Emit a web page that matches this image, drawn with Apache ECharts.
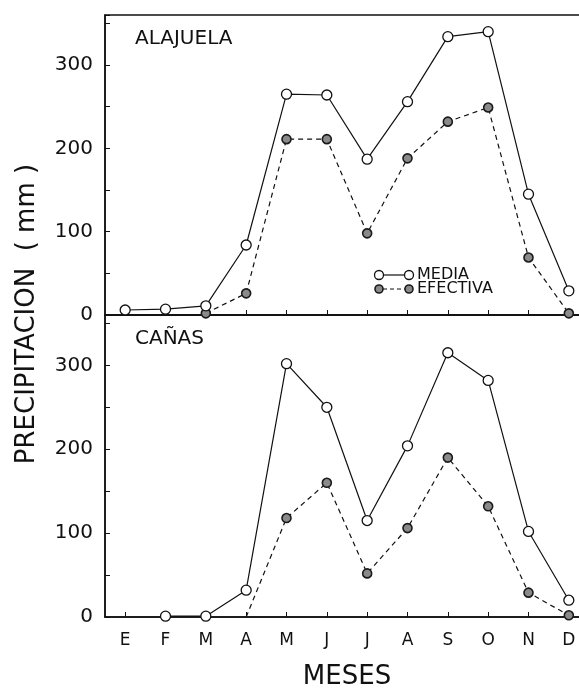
<!DOCTYPE html>
<html>
<head>
<meta charset="utf-8">
<script src="https://cdn.jsdelivr.net/npm/echarts@6/dist/echarts.min.js"></script>
<style>
  html, body { margin: 0; padding: 0; background: #fff; }
  #chart { width: 579px; height: 692px; }
</style>
</head>
<body>
<div id="chart"></div>
<script>
// meses del año
const months = ['E', 'F', 'M', 'A', 'M', 'J', 'J', 'A', 'S', 'O', 'N', 'D']
const yTicks = [0, 100, 200, 300]

// precipitacion (mm), Alajuela
const alajuelaMedia = [6, 7, 11, 84, 265, 264, 187, 256, 334, 340, 145, 29]
const alajuelaEfectiva = [null, null, 2, 26, 211, 211, 98, 188, 232, 249, 69, 2]

// precipitacion (mm), Cañas
const canasMedia = [null, 1, 1, 32, 302, 250, 115, 204, 315, 282, 102, 20]
const canasEfectiva = [null, null, null, 0, 118, 160, 52, 106, 190, 132, 29, 2]

const font = 'DejaVu Sans'
const ink = '#111'

let myChart = echarts.init(document.getElementById('chart'))

function xAx(idx, showLabels) {
  return {
    type: 'category',
    gridIndex: idx,
    data: months,
    boundaryGap: true,
    axisLine: { lineStyle: { color: ink, width: 1.5 } },
    axisTick: { show: true, alignWithLabel: true, inside: true, length: 5, lineStyle: { color: ink } },
    axisLabel: { show: showLabels, color: ink, fontFamily: font, fontSize: 17, margin: 15 },
    splitLine: { show: false },
    name: showLabels ? 'MESES' : '',
    nameLocation: 'middle',
    nameGap: 47,
    nameTextStyle: { color: ink, fontFamily: font, fontSize: 26 }
  }
}

function yAx(idx) {
  return {
    type: 'value',
    gridIndex: idx,
    min: 0,
    max: 360,
    interval: 50,
    axisLine: { show: true, lineStyle: { color: ink, width: 1.5 } },
    axisTick: { show: true, inside: true, length: 5, lineStyle: { color: ink } },
    axisLabel: {
      color: ink, fontFamily: font, fontSize: 20, margin: 12,
      formatter: v => yTicks.indexOf(v) >= 0 ? String(v) : ''
    },
    splitLine: { show: false }
  }
}

const mediaStyle = {
  type: 'line',
  symbol: 'circle',
  symbolSize: 10,
  itemStyle: { color: '#fff', borderColor: ink, borderWidth: 1.3 },
  lineStyle: { color: ink, width: 1.2 },
  z: 3
}
const efectivaStyle = {
  type: 'line',
  symbol: v => v === 0 ? 'none' : 'circle',
  symbolSize: 9,
  itemStyle: { color: '#8a8a8a', borderColor: '#1a1a1a', borderWidth: 1.6 },
  lineStyle: { color: ink, width: 1.2, type: [5, 4] },
  z: 2
}

const options = {
  animation: false,
  backgroundColor: '#fff',
  title: [
    { text: 'ALAJUELA', left: 130, top: 24, textStyle: { color: ink, fontFamily: font, fontSize: 20, fontWeight: 'normal' } },
    { text: 'CAÑAS', left: 130, top: 324, textStyle: { color: ink, fontFamily: font, fontSize: 20, fontWeight: 'normal' } }
  ],
  grid: [
    { left: 105, width: 484, top: 15, height: 300, outerBoundsMode: 'none', show: true, borderColor: ink, borderWidth: 1.5 },
    { left: 105, width: 484, top: 315, height: 302, outerBoundsMode: 'none', show: true, borderColor: ink, borderWidth: 1.5 }
  ],
  xAxis: [xAx(0, false), xAx(1, true)],
  yAxis: [yAx(0), yAx(1)],
  series: [
    Object.assign({ name: 'MEDIA', xAxisIndex: 0, yAxisIndex: 0, data: alajuelaMedia }, mediaStyle),
    Object.assign({ name: 'EFECTIVA', xAxisIndex: 0, yAxisIndex: 0, data: alajuelaEfectiva }, efectivaStyle),
    Object.assign({ name: 'MEDIA', xAxisIndex: 1, yAxisIndex: 1, data: canasMedia }, mediaStyle),
    Object.assign({ name: 'EFECTIVA', xAxisIndex: 1, yAxisIndex: 1, data: canasEfectiva }, efectivaStyle)
  ],
  graphic: [
    // titulo eje y
    {
      type: 'text', x: 27, y: 314, rotation: Math.PI / 2,
      style: { text: 'PRECIPITACION  ( mm )', fill: ink, font: '26px "DejaVu Sans"', align: 'center', verticalAlign: 'middle' }
    },
    // leyenda
    { type: 'line', shape: { x1: 383, y1: 275, x2: 405, y2: 275 }, style: { stroke: ink, lineWidth: 1.2 } },
    { type: 'circle', shape: { cx: 379, cy: 275, r: 4.5 }, style: { fill: '#fff', stroke: ink, lineWidth: 1.3 } },
    { type: 'circle', shape: { cx: 409, cy: 275, r: 4.5 }, style: { fill: '#fff', stroke: ink, lineWidth: 1.3 } },
    { type: 'text', x: 417, y: 275, style: { text: 'MEDIA', fill: ink, font: '16px "DejaVu Sans"', verticalAlign: 'middle' } },
    { type: 'line', shape: { x1: 383, y1: 289, x2: 405, y2: 289 }, style: { stroke: ink, lineWidth: 1.2, lineDash: [4, 3] } },
    { type: 'circle', shape: { cx: 379, cy: 289, r: 4 }, style: { fill: '#8a8a8a', stroke: '#1a1a1a', lineWidth: 1.6 } },
    { type: 'circle', shape: { cx: 409, cy: 289, r: 4 }, style: { fill: '#8a8a8a', stroke: '#1a1a1a', lineWidth: 1.6 } },
    { type: 'text', x: 417, y: 289, style: { text: 'EFECTIVA', fill: ink, font: '16px "DejaVu Sans"', verticalAlign: 'middle' } }
  ]
}

myChart.setOption(options)
window.onresize = function () {
  myChart.resize()
}
</script>
</body>
</html>
